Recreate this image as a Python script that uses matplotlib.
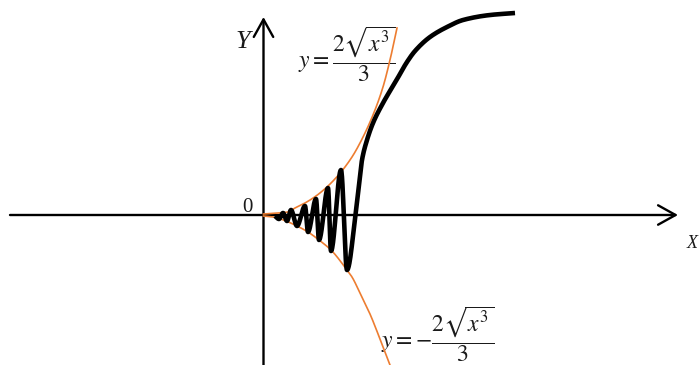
import numpy as np
import matplotlib

matplotlib.use("Agg")
import matplotlib.pyplot as plt

curve_x = [0.115, 0.155, 0.195, 0.235, 0.275, 0.335, 0.415, 0.445, 0.525, 0.555,
           0.645, 0.675, 0.775, 0.835, 0.92, 0.955, 0.985, 1.035, 1.095, 1.195,
           1.325, 1.435, 1.515, 1.665, 1.835, 1.995, 2.265, 2.515]
curve_y = [-0.01, -0.04, 0.02, -0.06, 0.05, -0.11, 0.09, -0.17, 0.16, -0.25,
           0.27, -0.36, 0.45, -0.55, 0.0, 0.30, 0.55, 0.75, 0.92, 1.12,
           1.34, 1.53, 1.64, 1.78, 1.88, 1.95, 2.00, 2.02]

# Envelopes y = +/- 2*sqrt(x^3)/3 as drawn
upper_x = [0.0, 0.065, 0.245, 0.315, 0.415, 0.525, 0.645, 0.775, 0.885, 0.965,
           1.095, 1.195, 1.265, 1.335]
upper_y = [0.01, 0.015, 0.03, 0.07, 0.12, 0.19, 0.29, 0.43, 0.58, 0.72,
           1.00, 1.28, 1.55, 1.87]
lower_x = [0.0, 0.1, 0.2, 0.335, 0.445, 0.555, 0.675, 0.835, 0.885, 0.965,
           1.065, 1.165, 1.265, 1.30]
lower_y = [-0.01, -0.02, -0.05, -0.11, -0.17, -0.25, -0.35, -0.55, -0.62, -0.78,
           -0.99, -1.24, -1.50, -1.60]

ORANGE = "#ED7D31"
INK = "#1a1a1a"


def smooth(xs, ys, n=25):
    """Monotone cubic (PCHIP-style) curve through the given points."""
    x = np.asarray(xs, float)
    y = np.asarray(ys, float)
    h = np.diff(x)
    d = np.diff(y) / h
    m = np.zeros_like(y)
    m[0], m[-1] = d[0], d[-1]
    for i in range(1, len(x) - 1):
        if d[i - 1] * d[i] <= 0:
            m[i] = 0.0
        else:
            w1 = 2 * h[i] + h[i - 1]
            w2 = h[i] + 2 * h[i - 1]
            m[i] = (w1 + w2) / (w1 / d[i - 1] + w2 / d[i])
    px, py = [], []
    for i in range(len(x) - 1):
        t = np.linspace(0, 1, n, endpoint=(i == len(x) - 2))
        h00 = 2 * t**3 - 3 * t**2 + 1
        h10 = t**3 - 2 * t**2 + t
        h01 = -2 * t**3 + 3 * t**2
        h11 = t**3 - t**2
        px.append(x[i] + t * h[i])
        py.append(h00 * y[i] + h10 * h[i] * m[i] + h01 * y[i + 1] + h11 * h[i] * m[i + 1])
    return np.concatenate(px), np.concatenate(py)


plt.rcParams["mathtext.fontset"] = "stix"

fig = plt.figure(figsize=(6.99, 3.65), dpi=100)
ax = fig.add_axes([0, 0, 1, 1])
ax.set_xlim(-2.635, 4.355)
ax.set_ylim(-1.50, 2.15)
ax.axis("off")

# axes with open arrow heads
arrow = dict(arrowstyle="->,head_length=0.9,head_width=0.5", lw=1.7, color="black",
             mutation_scale=14, shrinkA=0, shrinkB=0)
ax.annotate("", xy=(4.145, 0), xytext=(-2.535, 0), arrowprops=arrow)
ax.annotate("", xy=(0, 1.98), xytext=(0, -1.50), arrowprops=arrow)

# envelopes
ux, uy = smooth(upper_x, upper_y)
lx, ly = smooth(lower_x, lower_y)
ax.plot(ux, uy, color=ORANGE, lw=1.2, zorder=3)
ax.plot(lx, ly, color=ORANGE, lw=1.2, zorder=3)

# the function
cx, cy = smooth(curve_x, curve_y)
ax.plot(cx, cy, color="black", lw=3.3, solid_capstyle="butt", zorder=4)

# labels
ax.text(-0.205, 1.73, "Y", fontsize=19, family="Liberation Serif", style="italic",
        color=INK, ha="center", va="center")
ax.text(4.29, -0.29, "X", fontsize=13, family="Liberation Serif", style="italic",
        color=INK, ha="center", va="center")
ax.text(-0.16, 0.07, "0", fontsize=15, family="Liberation Serif",
        color=INK, ha="center", va="center")
ax.text(0.835, 1.61, r"$y=\dfrac{2\sqrt{x^3}}{3}$", fontsize=17, color=INK,
        ha="center", va="center", zorder=2)
ax.text(1.74, -1.19, r"$y=-\dfrac{2\sqrt{x^3}}{3}$", fontsize=17, color=INK,
        ha="center", va="center", zorder=2)

fig.savefig("out.png", dpi=100)
